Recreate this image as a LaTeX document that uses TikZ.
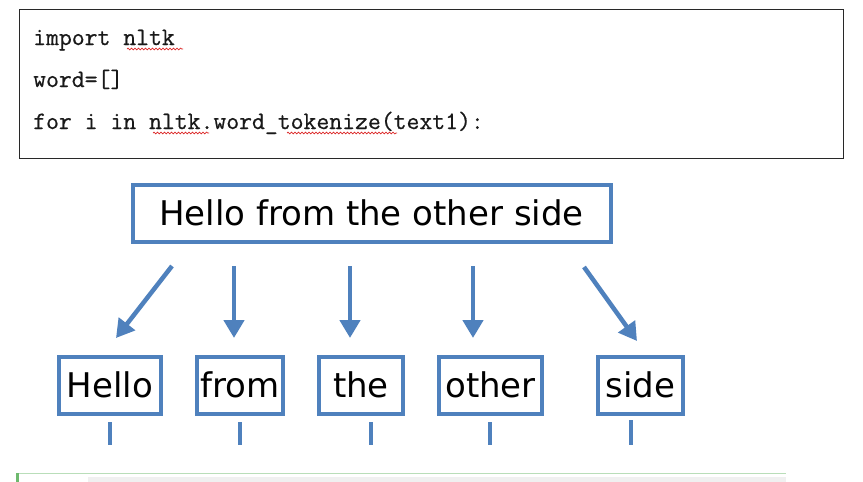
\documentclass[tikz,border=0pt]{standalone}
\usepackage{fontspec}
\newfontfamily\dvsans{DejaVu Sans}
\setmonofont{Latin Modern Mono}[FakeBold=0.6]
\usetikzlibrary{arrows.meta,shadows,decorations.pathmorphing}
\definecolor{offblue}{RGB}{79,129,189}
\definecolor{codeink}{RGB}{25,25,25}
\definecolor{codeframe}{RGB}{40,40,40}
\definecolor{squig}{RGB}{220,40,40}
\definecolor{lightgreen}{RGB}{185,222,185}
\definecolor{darkgreen}{RGB}{110,185,110}
\begin{document}
\begin{tikzpicture}[x=1pt,y=-1pt,
  codeline/.style={anchor=base west,inner sep=0pt,text=codeink,font=\ttfamily\fontsize{25}{30}\selectfont},
  sentbox/.style={draw=offblue,line width=4pt,fill=white,inner sep=0pt,
    minimum height=57pt,font=\dvsans\fontsize{34}{40}\selectfont,
    drop shadow={opacity=0.18,shadow xshift=1pt,shadow yshift=-2pt}},
  tokbox/.style={draw=offblue,line width=4pt,fill=white,inner sep=0pt,
    minimum height=57pt,font=\dvsans\fontsize{34}{40}\selectfont,
    drop shadow={opacity=0.18,shadow xshift=1pt,shadow yshift=-2pt}},
  splitarrow/.style={draw=offblue,line width=4.5pt,-{Triangle[width=20pt,length=18pt]}},
  tick/.style={draw=offblue,line width=4pt},
  squiggle/.style={draw=squig,line width=0.7pt,decorate,decoration={snake,amplitude=0.9pt,segment length=3.5pt}}
]
\useasboundingbox (0,0) rectangle (863,482);
\fill[white] (0,0) rectangle (863,482);

% code box
\node[draw=codeframe,line width=1.3pt,minimum width=824pt,minimum height=149pt,inner sep=0pt,anchor=north west] (codebox) at (18.5,8.5) {};
\node[codeline] (l1) at (33,45) {import nltk};
\node[codeline] (l2) at (33,87) {word=[]};
\node[codeline] (l3) at (33,129) {for i in nltk.word\_tokenize(text1):};
\coordinate (s1a) at (127,49); \coordinate (s1b) at (183,49);
\coordinate (s2a) at (153,133); \coordinate (s2b) at (209,133);
\coordinate (s3a) at (287,133); \coordinate (s3b) at (397,133);
\draw[squiggle] (s1a) -- (s1b);
\draw[squiggle] (s2a) -- (s2b);
\draw[squiggle] (s3a) -- (s3b);

% sentence box
\node[sentbox,minimum width=478pt] (sent) at (371.5,213) {Hello from the other side};

% token boxes
\node[tokbox,minimum width=102pt] (t1) at (110,385) {Hello};
\node[tokbox,minimum width=86pt] (t2) at (240,385) {from};
\node[tokbox,minimum width=84pt] (t3) at (361,385) {the};
\node[tokbox,minimum width=103pt] (t4) at (490.5,385) {other};
\node[tokbox,minimum width=85pt] (t5) at (640.5,385) {side};

% arrows
\coordinate (a1s) at (172,266); \coordinate (a1e) at (116,338);
\coordinate (a2s) at (234,266); \coordinate (a2e) at (234,338);
\coordinate (a3s) at (350,266); \coordinate (a3e) at (350,338);
\coordinate (a4s) at (473,266); \coordinate (a4e) at (473,338);
\coordinate (a5s) at (584,267); \coordinate (a5e) at (637,341);
\draw[splitarrow] (a1s) -- (a1e);
\draw[splitarrow] (a2s) -- (a2e);
\draw[splitarrow] (a3s) -- (a3e);
\draw[splitarrow] (a4s) -- (a4e);
\draw[splitarrow] (a5s) -- (a5e);

% ticks below tokens
\coordinate (k1a) at (110,422); \coordinate (k1b) at (110,445);
\coordinate (k2a) at (240,422); \coordinate (k2b) at (240,445);
\coordinate (k3a) at (371,422); \coordinate (k3b) at (371,445);
\coordinate (k4a) at (490,422); \coordinate (k4b) at (490,445);
\coordinate (k5a) at (631,420); \coordinate (k5b) at (631,445);
\draw[tick] (k1a) -- (k1b);
\draw[tick] (k2a) -- (k2b);
\draw[tick] (k3a) -- (k3b);
\draw[tick] (k4a) -- (k4b);
\draw[tick] (k5a) -- (k5b);

% bottom strip
\fill[black!6] (88,477) rectangle (786,482);
\draw[lightgreen,line width=1.5pt] (16,473.5) -- (786,473.5);
\draw[darkgreen,line width=2.5pt] (17.5,473) -- (17.5,482);
\end{tikzpicture}
\end{document}
